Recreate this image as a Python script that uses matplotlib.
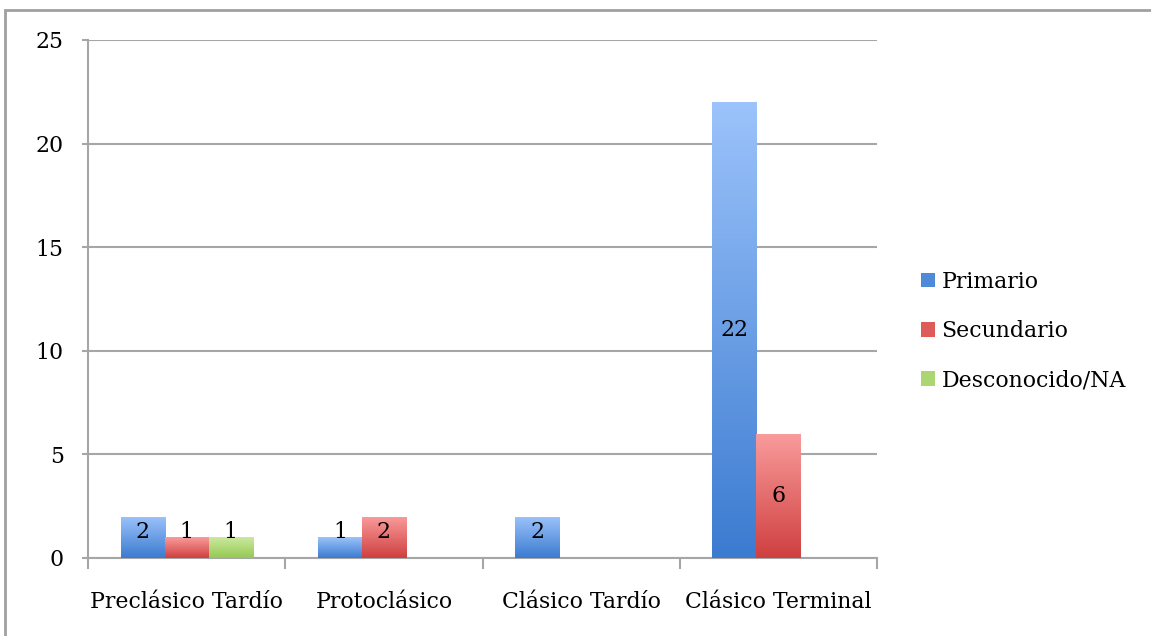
import numpy as np
import matplotlib
matplotlib.use("Agg")
import matplotlib.pyplot as plt
from matplotlib.colors import LinearSegmentedColormap
from matplotlib.patches import Patch, Rectangle

categories = ["Preclásico Tardío", "Protoclásico", "Clásico Tardío", "Clásico Terminal"]
series_names = ["Primario", "Secundario", "Desconocido/NA"]
primario = [2, 1, 2, 22]
secundario = [1, 2, 0, 6]
desconocido = [1, 0, 0, 0]
yticks = [0, 5, 10, 15, 20, 25]

values = [primario, secundario, desconocido]
grad_colors = [("#9cc3fb", "#3b7bd0"), ("#fa9c9c", "#cf3f3f"), ("#cce99f", "#95c952")]
legend_colors = ["#4f8ad8", "#dd5b5b", "#abd672"]

plt.rcParams['font.family'] = ['DejaVu Serif']
FS = 15.8

fig = plt.figure(figsize=(11.51, 6.36), dpi=100)
ax = fig.add_axes([88/1151, 1-558/636, (877-88)/1151, (558-40)/636])

x = np.arange(len(categories))
width = 44/197
offsets = [-width, 0, width]
ax.set_xlim(-0.5, len(categories)-0.5)
ax.set_ylim(0, 25)

min_label_y = 1.25  # labels of short bars are kept off the baseline
for si, (vals, (ctop, cbot)) in enumerate(zip(values, grad_colors)):
    cmap = LinearSegmentedColormap.from_list("g%d" % si, [cbot, ctop])
    bars = ax.bar(x + offsets[si], vals, width, color="none", edgecolor="none", zorder=3)
    for b, v in zip(bars, vals):
        if v <= 0:
            continue
        x0, w, h = b.get_x(), b.get_width(), b.get_height()
        grad = np.linspace(0, 1, 256).reshape(-1, 1)
        im = ax.imshow(grad, cmap=cmap, origin="lower", aspect="auto",
                       extent=[x0, x0 + w, 0, h], zorder=3, interpolation="bilinear")
        im.set_clip_path(b)
        ax.text(x0 + w/2, max(h/2, min_label_y), str(v), ha="center", va="center",
                fontsize=FS, color="black", zorder=5)

ax.set_xlim(-0.5, len(categories)-0.5)
ax.set_ylim(0, 25)
ax.set_yticks(yticks)
ax.set_yticklabels([str(t) for t in yticks], fontsize=FS)
ax.yaxis.grid(True, color="#a6a6a6", linewidth=1.5, zorder=0)
ax.set_axisbelow(True)
ax.set_xticks(x)
ax.set_xticklabels(categories, fontsize=FS)
ax.tick_params(axis="x", length=0, pad=24)
ax.set_xticks(np.arange(len(categories)+1) - 0.5, minor=True)
ax.tick_params(axis="x", which="minor", length=8, width=1.5, color="#a6a6a6")
ax.tick_params(axis="y", length=4.5, width=1.5, color="#a6a6a6", pad=13)
for s in ["top", "right"]:
    ax.spines[s].set_visible(False)
for s in ["left", "bottom"]:
    ax.spines[s].set_color("#a6a6a6")
    ax.spines[s].set_linewidth(1.5)

handles = [Patch(facecolor=c, edgecolor="none") for c in legend_colors]
leg = fig.legend(handles, series_names, loc="center left",
                 bbox_to_anchor=(901/1151, 1-331/636), frameon=False, fontsize=FS,
                 handlelength=0.65, handleheight=0.65, handletextpad=0.3, labelspacing=1.25)

# outer chart frame (only left and top edges visible in the crop)
fig.add_artist(Rectangle((5/1151, -0.5), 2.0, 1.5 - 10/636, transform=fig.transFigure,
                         facecolor="none", edgecolor="#a0a0a0", linewidth=2, zorder=0))

fig.savefig("out.png", dpi=100)
